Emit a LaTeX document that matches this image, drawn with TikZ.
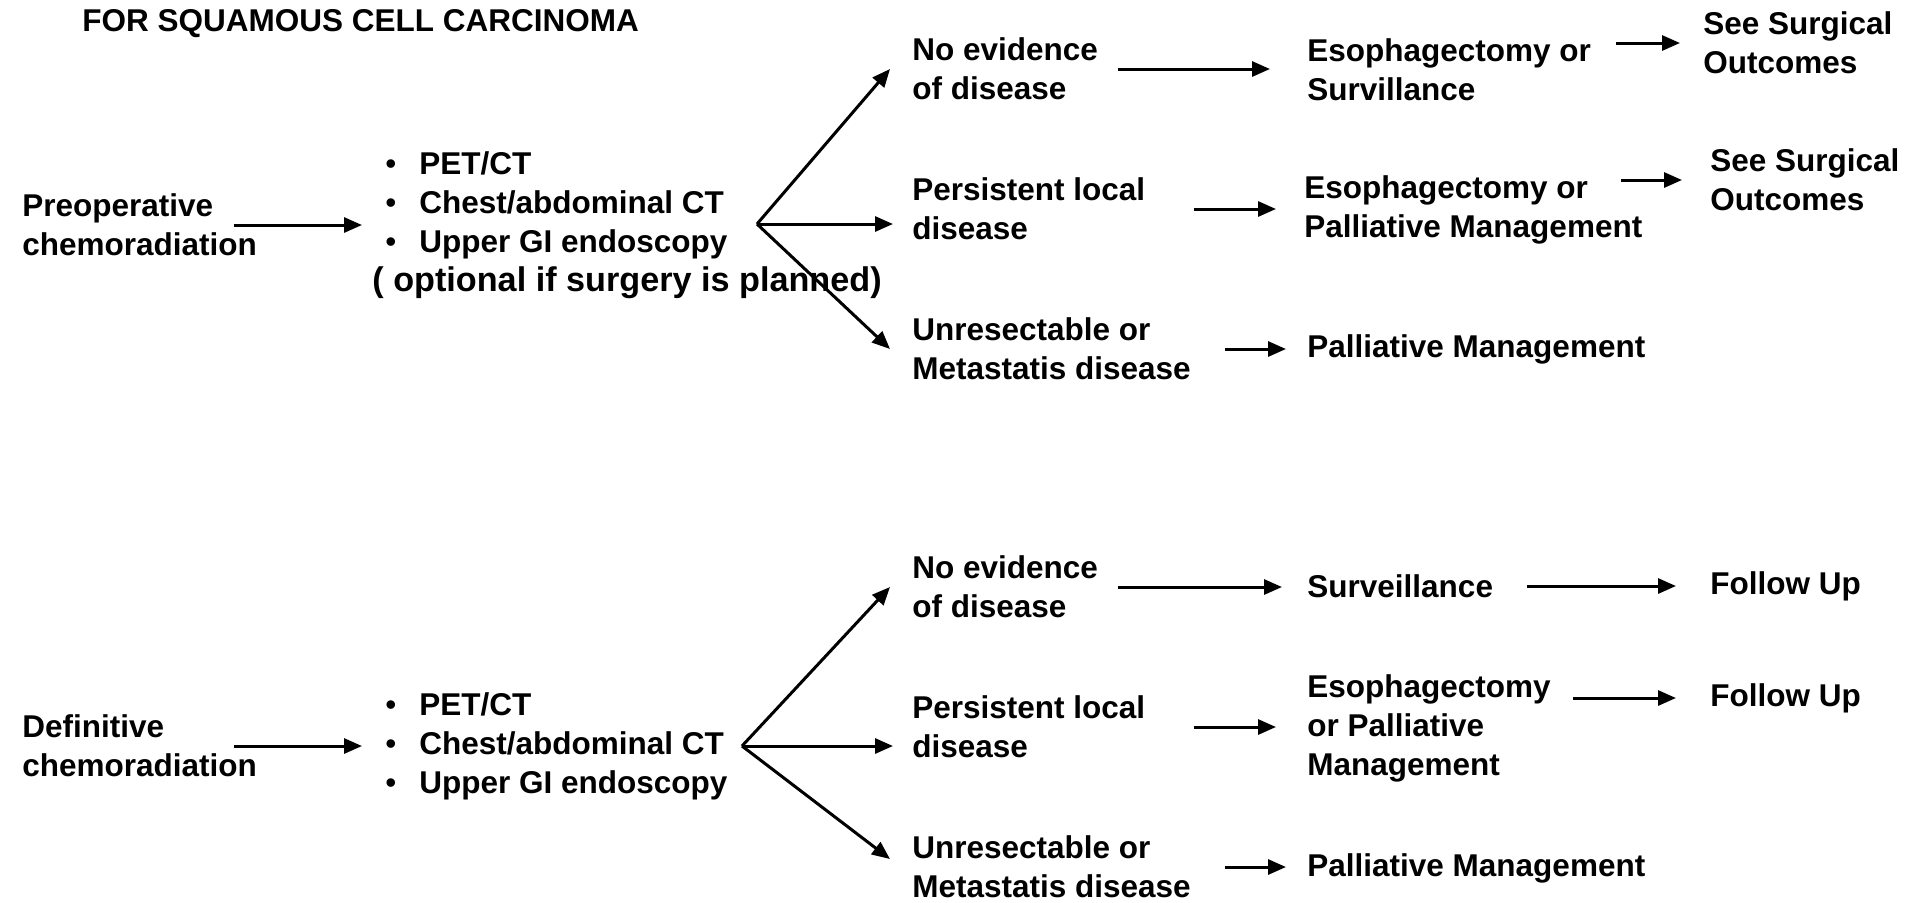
\documentclass[tikz,border=0pt]{standalone}
\usepackage{fontspec}
\setmainfont{Liberation Sans}
\usepackage{tikz}
\usetikzlibrary{arrows.meta,positioning,calc}
\tikzset{
  txt/.style={anchor=west, align=left, inner sep=0pt,
              font=\fontsize{15.75}{19.5}\selectfont\bfseries},
  fl/.style={-{Triangle[length=9pt,width=7.5pt]}, line width=1.5pt},
}
\newcommand{\itm}[1]{\makebox[17pt][l]{\mdseries\textbullet}#1}

\begin{document}
\begin{tikzpicture}[x=0.5pt, y=-0.5pt]
\useasboundingbox (0,0) rectangle (1911,902);
\node[txt] (title) at (82,24) {FOR SQUAMOUS CELL CARCINOMA};
% preoperative branch
\node[txt] (preop) at (22,225) {Preoperative\\chemoradiation};
\node[txt] (tests1) at (372,225) {\hspace*{6.5pt}\itm{PET/CT}\\\hspace*{6.5pt}\itm{Chest/abdominal CT}\\\hspace*{6.5pt}\itm{Upper GI endoscopy}\\{\fontsize{17.1}{19.5}\selectfont( optional if surgery is planned)}};
\coordinate (fan1) at (757,224);
\node[txt] (noev1) at (912,69) {No evidence\\of disease};
\node[txt] (pers1) at (912,209) {Persistent local\\disease};
\node[txt] (unres1) at (912,349) {Unresectable or\\Metastatis disease};
\node[txt] (eso1) at (1307,70) {Esophagectomy or\\Survillance};
\node[txt] (see1) at (1703,43) {See Surgical\\Outcomes};
\node[txt] (eso2) at (1304,210) {Esophagectomy or\\Palliative Management};
\node[txt] (see2) at (1710,180) {See Surgical\\Outcomes};
\node[txt] (pall1) at (1307,349) {Palliative Management};
\draw[fl] ($(preop.west)+(212,0)$) -- ($(tests1.west)+(-10,0)$);
\draw[fl] (fan1) -- ($(noev1.west)+(-22,0)$);
\draw[fl] (fan1) -- ($(fan1 -| pers1.west)+(-19,0)$);
\draw[fl] (fan1) -- ($(unres1.west)+(-22,0)$);
\draw[fl] ($(noev1.west)+(206,0)$) -- ($(noev1.west -| eso1.west)+(-37,0)$);
\draw[fl] ($(see1.west -| eso1.west)+(309,0)$) -- ($(see1.west)+(-23,0)$);
\draw[fl] ($(pers1.west)+(282,0)$) -- ($(pers1.west -| eso2.west)+(-28,0)$);
\draw[fl] ($(see2.west -| eso2.west)+(317,0)$) -- ($(see2.west)+(-28,0)$);
\draw[fl] ($(unres1.west)+(313,0)$) -- ($(unres1.west -| pall1.west)+(-21,0)$);
% definitive branch
\node[txt] (preop2) at (22,746) {Definitive\\chemoradiation};
\node[txt] (tests2) at (385,746) {\itm{PET/CT}\\\itm{Chest/abdominal CT}\\\itm{Upper GI endoscopy}};
\coordinate (fan2) at (742,746);
\node[txt] (noev2) at (912,587) {No evidence\\of disease};
\node[txt] (pers2) at (912,727) {Persistent local\\disease};
\node[txt] (unres2) at (912,867) {Unresectable or\\Metastatis disease};
\node[txt] (surv) at (1307,586) {Surveillance};
\node[txt] (fu1) at (1710,586) {Follow Up};
\node[txt] (eso3) at (1307,728) {Esophagectomy\\or Palliative\\Management};
\node[txt] (fu2) at (1710,698) {Follow Up};
\node[txt] (pall2) at (1307,868) {Palliative Management};
\draw[fl] ($(preop2.west)+(212,0)$) -- ($(tests2.west)+(-23,0)$);
\draw[fl] (fan2) -- ($(noev2.west)+(-22,0)$);
\draw[fl] (fan2) -- ($(fan2 -| pers2.west)+(-19,0)$);
\draw[fl] (fan2) -- ($(unres2.west)+(-22,-8)$);
\draw[fl] ($(noev2.west)+(206,0)$) -- ($(noev2.west -| surv.west)+(-25,0)$);
\draw[fl] ($(surv.west)+(220,0)$) -- ($(fu1.west)+(-34,0)$);
\draw[fl] ($(pers2.west)+(282,0)$) -- ($(pers2.west -| eso3.west)+(-31,0)$);
\draw[fl] ($(fu2.west -| eso3.west)+(266,0)$) -- ($(fu2.west)+(-34,0)$);
\draw[fl] ($(unres2.west)+(313,0)$) -- ($(unres2.west -| pall2.west)+(-21,0)$);
\end{tikzpicture}
\end{document}
